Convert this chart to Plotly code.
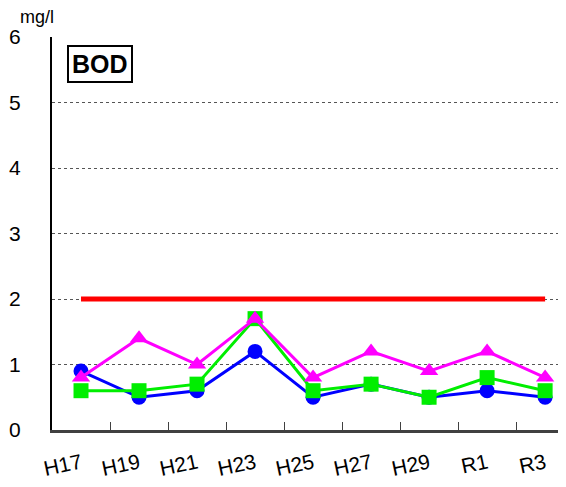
import plotly.graph_objects as go

categories = ["H17", "H19", "H21", "H23", "H25", "H27", "H29", "R1", "R3"]
blue_vals = [0.9, 0.5, 0.6, 1.2, 0.5, 0.7, 0.5, 0.6, 0.5]
green_vals = [0.6, 0.6, 0.7, 1.7, 0.6, 0.7, 0.5, 0.8, 0.6]
magenta_vals = [0.8, 1.4, 1.0, 1.7, 0.8, 1.2, 0.9, 1.2, 0.8]
standard_vals = [2, 2, 2, 2, 2, 2, 2, 2, 2]

FONT = "Liberation Sans, Arial, sans-serif"

fig = go.Figure()
fig.add_trace(go.Scatter(x=categories, y=standard_vals, mode="lines",
                         line=dict(color="#ff0000", width=5), hoverinfo="skip"))
fig.add_trace(go.Scatter(x=categories, y=blue_vals, mode="lines+markers",
                         line=dict(color="#0000ff", width=3),
                         marker=dict(symbol="circle", size=15, color="#0000ff")))
fig.add_trace(go.Scatter(x=categories, y=green_vals, mode="lines+markers",
                         line=dict(color="#00ee00", width=3),
                         marker=dict(symbol="square", size=15, color="#00ee00")))
fig.add_trace(go.Scatter(x=categories, y=magenta_vals, mode="lines+markers",
                         line=dict(color="#ff00ff", width=3),
                         marker=dict(symbol="triangle-up", size=16, color="#ff00ff")))

fig.update_layout(
    width=558, height=479,
    margin=dict(l=44, r=0, t=29, b=57),
    paper_bgcolor="white", plot_bgcolor="white",
    showlegend=False,
    font=dict(family=FONT, color="black", size=20),
    xaxis=dict(
        type="category", range=[-0.5, 8.36],
        showline=True, linecolor="#404040", linewidth=3,
        ticks="inside", tickson="boundaries", ticklen=8, tickcolor="#404040", tickwidth=1,
        showgrid=False, tickangle=-12, tickfont=dict(size=21),
        ticklabelstandoff=10,
        zeroline=False,
    ),
    yaxis=dict(
        range=[0, 6], tickvals=[0, 1, 2, 3, 4, 5, 6],
        showline=True, linecolor="black", linewidth=2,
        showgrid=True, gridcolor="#555555", griddash="dot", gridwidth=1,
        zeroline=False, ticks="", ticklabelstandoff=25,
        tickfont=dict(size=21),
    ),
    annotations=[
        dict(text="mg/l", xref="paper", yref="paper", x=0, y=1.0, xshift=-15, yshift=20,
             showarrow=False, font=dict(size=18), xanchor="center", yanchor="middle"),
        dict(text="<b>BOD</b>", xref="paper", yref="paper", x=0.029, y=0.98,
             xanchor="left", yanchor="top", showarrow=False,
             font=dict(size=25), bordercolor="black", borderwidth=2, borderpad=3,
             bgcolor="white"),
    ],
)

fig.write_html("out.html")
